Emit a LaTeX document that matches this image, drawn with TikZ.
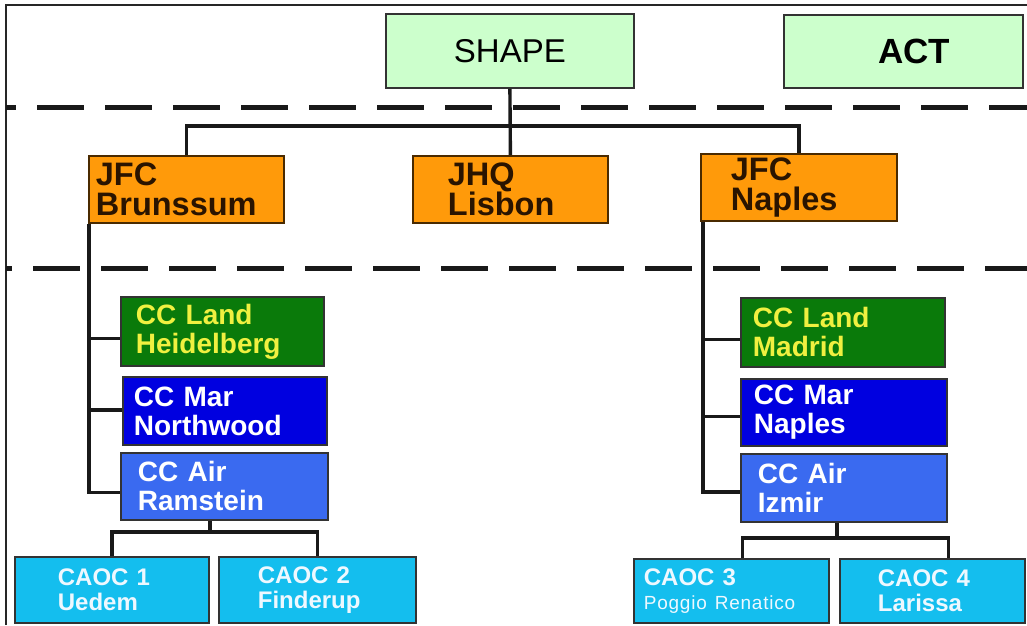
\documentclass[tikz,border=0pt]{standalone}
\usepackage{fontspec}
\setmainfont{Liberation Sans}
\newfontfamily\spacedfont{Liberation Sans}[LetterSpace=4]
\begin{document}
\begin{tikzpicture}[x=1pt,y=-1pt,
  box/.style={draw=black!80, line width=1.8pt, rectangle, anchor=north west, inner ysep=0pt, align=left},
  hq/.style={box, fill=hqgreen, align=center},
  jfc/.style={box, fill=jfcorange, text=jfctext, draw=jfcborder, font=\bfseries\fontsize{32.5}{30}\selectfont},
  ccland/.style={box, fill=landgreen, text=landtext, font=\bfseries\fontsize{28}{29}\selectfont},
  ccmar/.style={box, fill=marblue, text=white, font=\bfseries\fontsize{28}{29}\selectfont},
  ccair/.style={box, fill=airblue, text=white, font=\bfseries\fontsize{28}{29}\selectfont},
  caoc/.style={box, fill=caoccyan, text=caoctext, font=\bfseries\fontsize{24}{24.5}\selectfont},
  conn/.style={line width=3.4pt, draw=black!90},
  sep/.style={line width=5pt, draw=black!90, dash pattern=on 47pt off 21pt}
]
\definecolor{hqgreen}{HTML}{CCFFCC}
\definecolor{jfcorange}{HTML}{FF9A0A}
\definecolor{jfctext}{HTML}{2A1400}
\definecolor{jfcborder}{HTML}{4A2A00}
\definecolor{landgreen}{HTML}{0A7A0A}
\definecolor{landtext}{HTML}{F0F040}
\definecolor{marblue}{HTML}{0000E0}
\definecolor{airblue}{HTML}{3A6AF0}
\definecolor{caoccyan}{HTML}{14BEEE}
\definecolor{caoctext}{HTML}{EEF8FF}

\useasboundingbox (0,0) rectangle (1027,625);
\fill[white] (0,0) rectangle (1027,625);

% frame
\draw[line width=2pt, black!85] (6,625) -- (6,5) -- (1027,5);

% separators
\draw[sep, dash phase=37pt] (6,107) -- (1027,107);
\draw[sep, dash phase=41pt] (6,268) -- (1027,268);

% top level
\node[hq, minimum height=74pt, text width=240pt, inner xsep=4pt, font=\fontsize{33}{33}\selectfont] (shape) at (385,13) {SHAPE};
\node[hq, minimum height=73pt, text width=231pt, inner xsep=4pt, font=\bfseries\fontsize{35}{35}\selectfont] (act) at (783,14) {\hspace*{22pt}ACT};

% JFC level
\node[jfc, minimum height=67pt, text width=181pt, inner xsep=7pt] (brun) at (88,155) {JFC\\Brunssum};
\node[jfc, minimum height=67pt, text width=125pt, inner xsep=35pt] (jhq) at (412,155) {JHQ\\Lisbon};
\node[jfc, minimum height=67pt, text width=136pt, inner xsep=30pt] (napl) at (700,153) {JFC\\Naples};

% CC level left
\node[ccland, minimum height=69pt, text width=173pt, inner xsep=15pt] (ccl1) at (120,296) {CC Land\\Heidelberg};
\node[ccmar, minimum height=68pt, text width=182pt, inner xsep=11pt] (ccm1) at (122,376) {CC Mar\\Northwood};
\node[ccair, minimum height=67pt, text width=173pt, inner xsep=17pt] (cca1) at (120,452) {CC Air\\Ramstein};

% CC level right
\node[ccland, minimum height=69pt, text width=180pt, inner xsep=12pt] (ccl2) at (740,297) {CC Land\\Madrid};
\node[ccmar, minimum height=67pt, text width=180pt, inner xsep=13pt] (ccm2) at (740,378) {CC Mar\\Naples};
\node[ccair, minimum height=68pt, text width=172pt, inner xsep=17pt] (cca2) at (740,453) {CC Air\\Izmir};

% CAOC level
\node[caoc, minimum height=66pt, text width=108pt, inner xsep=43pt] (caoc1) at (14,556) {CAOC 1\\Uedem};
\node[caoc, minimum height=66pt, text width=119pt, inner xsep=39pt] (caoc2) at (218,556) {CAOC 2\\Finderup};
\node[caoc, minimum height=64pt, text width=175pt, inner xsep=10pt] (caoc3) at (633,558) {CAOC 3\\{\mdseries\spacedfont\fontsize{19}{20}\selectfont Poggio Renatico}};
\node[caoc, minimum height=64pt, text width=109pt, inner xsep=38pt] (caoc4) at (839,558) {CAOC 4\\Larissa};

% connectors top
\coordinate (bar) at (0,126);
\draw[conn] (shape.south) -- (jhq.north);
\draw[conn] (brun.north) -- (brun.north |- bar) -- (napl.north |- bar) -- (napl.north);

% left spine
\coordinate (lsp) at ([xshift=1pt]brun.south west);
\draw[conn] (lsp) |- ([yshift=-7pt]ccl1.west);
\draw[conn] (lsp) |- ([yshift=1pt]ccm1.west);
\draw[conn] (lsp) |- ([yshift=-6pt]cca1.west);

% right spine
\coordinate (rsp) at ([xshift=3pt]napl.south west);
\draw[conn] (rsp) |- ([yshift=-7pt]ccl2.west);
\draw[conn] (rsp) |- ([yshift=-4pt]ccm2.west);
\draw[conn] (rsp) |- ([yshift=-4pt]cca2.west);

% CAOC connectors
\coordinate (lbar) at (210,532);
\draw[conn] (cca1.south -| lbar) -- (lbar);
\draw[conn] (caoc1.north) |- (lbar) -| (caoc2.north);
\coordinate (rbar) at (837,538);
\draw[conn] (cca2.south -| rbar) -- (rbar);
\draw[conn] ([xshift=11pt]caoc3.north) |- (rbar) -| ([xshift=16pt]caoc4.north);
\end{tikzpicture}
\end{document}
